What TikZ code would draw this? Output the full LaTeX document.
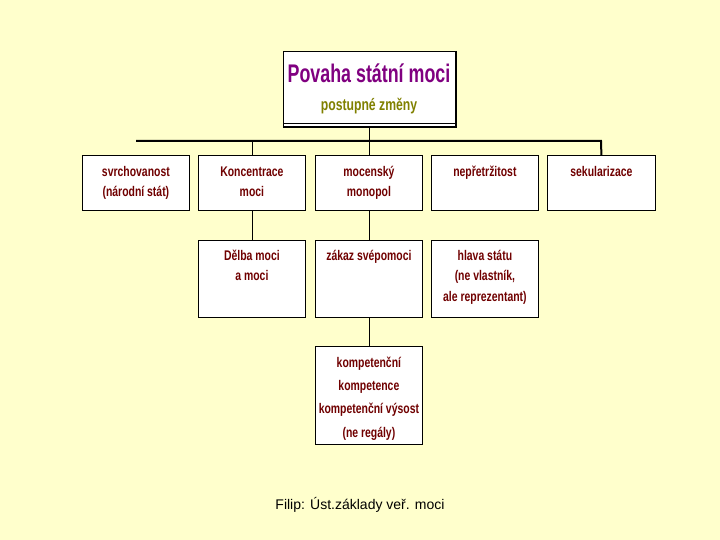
\documentclass[tikz,border=0pt]{standalone}
\usepackage{fontspec}
\setmainfont{Liberation Sans}
\newfontfamily\narrowfont[FakeStretch=0.745]{Liberation Sans Bold}
\newfontfamily\titlefont[FakeStretch=0.70]{Liberation Sans Bold}
\newfontfamily\subfont[FakeStretch=0.74]{Liberation Sans Bold}
\definecolor{bg}{HTML}{FFFFCC}
\definecolor{txtred}{HTML}{700000}
\definecolor{titlepurple}{HTML}{800080}
\definecolor{subolive}{HTML}{808000}
\newcommand\topstrut{\rule{0pt}{14pt}}
\begin{document}
\begin{tikzpicture}[x=1pt,y=-1pt,
  cell/.style={draw=black, line width=0.8pt, fill=white, rectangle, inner sep=0pt, minimum width=107pt, anchor=north west},
  rowone/.style={cell, minimum height=55pt},
  rowtwo/.style={cell, minimum height=77pt},
  rowthree/.style={cell, minimum height=98pt},
  lbl/.style={anchor=north, inner sep=0pt, align=center, text=txtred, font=\narrowfont\fontsize{14}{20.5}\selectfont},
  conn/.style={line width=0.8pt}]
\fill[bg] (0,0) rectangle (720,540);
\useasboundingbox (0,0) rectangle (720,540);

% top box
\node[draw, line width=0.8pt, fill=white, minimum width=172pt, minimum height=75pt, anchor=north west, inner sep=0pt] (top) at (283,51) {};
\draw[line width=1.6pt] (top.north east) -- (top.south east) -- (top.south west);
\draw[line width=0.8pt] ([yshift=3.5pt]top.south west) -- ([yshift=3.5pt]top.south east);
\node[anchor=base, inner sep=0pt, text=titlepurple, font=\titlefont\fontsize{25.5}{30}\selectfont] (title) at (369,83) {Povaha státní moci};
\node[anchor=base, inner sep=0pt, text=subolive, font=\subfont\fontsize{16.5}{20}\selectfont] (sub) at (369,111) {postupné změny};

% row 1
\node[rowone] (b1) at (82,155) {};
\node[rowone] (b2) at (198,155) {};
\node[rowone] (b3) at (315,155) {};
\node[rowone] (b4) at (431,155) {};
\node[rowone, minimum width=108pt] (b5) at (547,155) {};
% row 2
\node[rowtwo] (d1) at (198,240) {};
\node[rowtwo] (d2) at (315,240) {};
\node[rowtwo] (d3) at (431,240) {};
% row 3
\node[rowthree] (e1) at (315,346) {};

% labels
\node[lbl] (b1t) at ([yshift=-7pt]b1.north) {\topstrut svrchovanost\\(národní stát)};
\node[lbl] (b2t) at ([yshift=-7pt]b2.north) {\topstrut Koncentrace\\moci};
\node[lbl] (b3t) at ([yshift=-7pt]b3.north) {\topstrut mocenský\\monopol};
\node[lbl] (b4t) at ([yshift=-7pt]b4.north) {\topstrut nepřetržitost};
\node[lbl] (b5t) at ([yshift=-7pt]b5.north) {\topstrut sekularizace};
\node[lbl] (d1t) at ([yshift=-6pt]d1.north) {\topstrut Dělba moci\\a moci};
\node[lbl] (d2t) at ([yshift=-6pt]d2.north) {\topstrut zákaz svépomoci};
\node[lbl] (d3t) at ([yshift=-6pt]d3.north) {\topstrut hlava státu\\(ne vlastník,\\ale reprezentant)};
\node[lbl, font=\narrowfont\fontsize{14}{23.3}\selectfont] (e1t) at ([yshift=-7pt]e1.north) {\topstrut kompetenční\\kompetence\\kompetenční výsost\\(ne regály)};

% connectors
\coordinate (hl) at (136,141);
\coordinate (hr) at (601,141);
\draw[line width=2pt] (hl) -- (hr) -- (b5.north);
\draw[conn] (top.south) -- (top.south |- hl);
\draw[conn] (b2.north |- hl) -- (b2.north);
\draw[conn] (b3.north |- hl) -- (b3.north);
\draw[conn] (b2.south) -- (d1.north);
\draw[conn] (b3.south) -- (d2.north);
\draw[conn] (d2.south) -- (e1.north);

% footer
\node[anchor=base, inner sep=0pt, font=\fontsize{14}{16}\selectfont] (foot) at (360,509) {Filip: Úst.základy veř. moci};
\end{tikzpicture}
\end{document}
